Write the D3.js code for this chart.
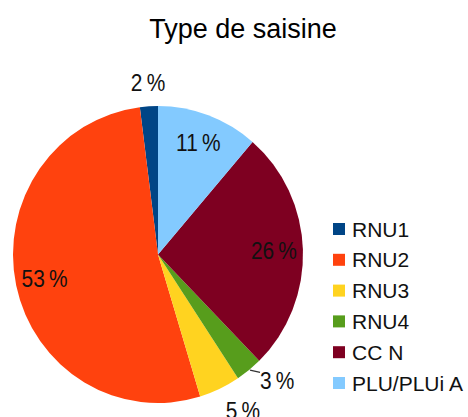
<!DOCTYPE html>
<html><head><meta charset="utf-8">
<script src="https://cdn.jsdelivr.net/npm/d3@7"></script>
<style>
html,body{margin:0;padding:0;background:#fff;}
text{font-family:"Liberation Sans",Arial,sans-serif;}
</style></head>
<body>
<svg id="chart" width="468" height="417"></svg>
<script>
const title = "Type de saisine";
const categories = ["RNU1","RNU2","RNU3","RNU4","CC N","PLU/PLUi A"];
const values = [2.0, 52.7, 4.6, 3.0, 26.4, 11.3];
const labels = ["2\u2009%","53\u2009%","5\u2009%","3\u2009%","26\u2009%","11\u2009%"];
const colors = ["#004586","#ff420e","#ffd320","#579d1c","#7e0021","#83caff"];

const svg = d3.select("#chart");
const cx = 158, cy = 254.5, r = 145, sy = 148.5/145;

svg.append("text").attr("x", 243).attr("y", 38).attr("text-anchor","middle")
  .attr("font-size", 27).attr("fill","#000").text(title);

const color = d3.scaleOrdinal().domain(categories).range(colors);
const pie = d3.pie().sort(null).startAngle(0).endAngle(-2*Math.PI);
const arcs = pie(values);
const arc = d3.arc().innerRadius(0).outerRadius(r);

const g = svg.append("g").attr("transform", `translate(${cx},${cy}) scale(1,${sy})`);
g.selectAll("path").data(arcs).join("path")
  .attr("d", arc).attr("fill", (d,i)=>color(categories[i]));

// labels
const fs = 24, kx = 0.87, h = 18;
const lblG = svg.append("g");
const boxes = [];
arcs.forEach((d,i)=>{
  const t = lblG.append("text").attr("font-size", fs).attr("fill","#111")
    .attr("text-anchor","middle").attr("dominant-baseline","central").text(labels[i]);
  const w = t.node().getComputedTextLength()*kx;
  const a = (d.startAngle + d.endAngle)/2;
  const s = Math.sin(a), c = Math.cos(a);
  const frac = Math.abs(d.endAngle - d.startAngle)/(2*Math.PI);
  if (frac > 0.08) {
    const rr = r*0.8;
    boxes.push({t, x: cx + rr*s, y: cy - rr*c*sy, w, out:false});
  } else {
    const ex = cx + r*s, ey = cy - r*c*sy;
    const gap = 14;
    const px = cx + (r+gap)*s, py = cy - (r+gap)*c*sy;
    const hx = Math.abs(s) < 0.3 ? 0 : (s > 0 ? 1 : -1);
    const vy = Math.abs(c) < 0.3 ? 0 : (c > 0 ? -1 : 1);
    boxes.push({t, x: px + hx*w/2, y: py + vy*h/2, w, out:true, ex, ey, moved:false});
  }
});
// declutter outside labels that crowd each other near the bottom
const outs = boxes.filter(b=>b.out).sort((a,b)=>b.y-a.y);
for (let k=1;k<outs.length;k++){
  const lower = outs[k-1], upper = outs[k];
  if (lower.y - upper.y < h + 12 && Math.abs(lower.x-upper.x) < (lower.w+upper.w)/2 + 20) {
    upper.y = lower.y - (h + 12);
    upper.x = lower.x + lower.w/2 + upper.w/2;
    upper.moved = true;
  }
}
boxes.forEach(b=>{
  if (b.out && b.moved) {
    lblG.append("line").attr("x1", b.ex+1).attr("y1", b.ey)
      .attr("x2", b.x - b.w/2).attr("y2", b.y - h/2 + 0.5)
      .attr("stroke","#333").attr("stroke-width",1.3);
  }
  b.t.attr("transform", `translate(${b.x},${b.y}) scale(${kx},1)`);
});

// legend
const leg = svg.append("g");
const ly = d3.scalePoint().domain(categories).range([229, 383]);
categories.forEach((c,i)=>{
  leg.append("rect").attr("x", 333).attr("y", ly(c)-6).attr("width", 12).attr("height", 12)
    .attr("fill", color(c));
  leg.append("text").attr("x", 352).attr("y", ly(c)).attr("dominant-baseline","central")
    .attr("font-size", 21).attr("fill","#111").text(c);
});
</script>
</body></html>
